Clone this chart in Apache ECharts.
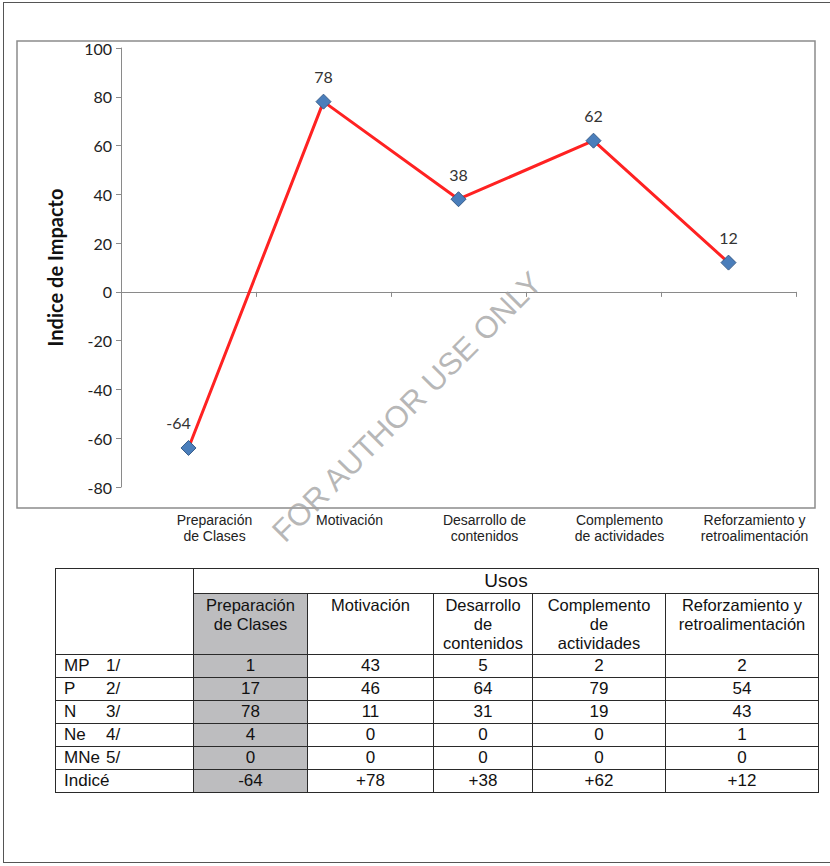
<!DOCTYPE html>
<html>
<head>
<meta charset="utf-8">
<title>Indice de Impacto</title>
<script src="https://cdn.jsdelivr.net/npm/echarts@6/dist/echarts.min.js"></script>
<style>
  html, body { margin: 0; padding: 0; background: #fff; }
  body { width: 830px; height: 866px; position: relative; overflow: hidden; }
  #frame {
    position: absolute; left: 3px; top: 2px; width: 860px; height: 861px;
    border: 1.5px solid #555; box-sizing: border-box;
  }
  #chart { position: absolute; left: 0; top: 0; width: 830px; height: 866px; }
  #usos {
    position: absolute; left: 55px; top: 568px; width: 763px;
    border-collapse: collapse; table-layout: fixed;
    font-family: "Liberation Sans", Arial, sans-serif; color: #111;
  }
  #usos td { border: 1px solid #2a2a2a; padding: 0; text-align: center; font-size: 17px; line-height: 20px; }
  #usos tr.top td.title { font-size: 19px; line-height: 22px; }
  #usos tr.top { height: 25px; }
  #usos tr.head { height: 61px; }
  #usos tr.head td { vertical-align: top; font-size: 16.5px; line-height: 19px; white-space: pre-line; padding-top: 2px; }
  #usos tr.row { height: 23px; }
  #usos td.lbl { text-align: left; padding-left: 8px; }
  #usos td.lbl span.code { display: inline-block; width: 42px; }
  #usos td.shade { background: #bdbdbf; }
</style>
</head>
<body>
<div id="frame"></div>
<div id="chart"></div>
<table id="usos"></table>
<script>
// Categories as printed under the chart and in the table header
const axisLabels = ['Preparación\nde Clases', 'Motivación', 'Desarrollo de\ncontenidos', 'Complemento\nde actividades', 'Reforzamiento y\nretroalimentación'];
const tableHeaders = ['Preparación\nde Clases', 'Motivación', 'Desarrollo\nde\ncontenidos', 'Complemento\nde\nactividades', 'Reforzamiento y\nretroalimentación'];

// Impact index per use
const impactIndex = [-64, 78, 38, 62, 12];

// Value axis range
const yMin = -80;
const yMax = 100;
const yStep = 20;

// Response counts per category
const rowCodes = ['MP', 'P', 'N', 'Ne', 'MNe'];
const rowNums = ['1/', '2/', '3/', '4/', '5/'];
const countsMP = [1, 43, 5, 2, 2];
const countsP = [17, 46, 64, 79, 54];
const countsN = [78, 11, 31, 19, 43];
const countsNe = [4, 0, 0, 0, 1];
const countsMNe = [0, 0, 0, 0, 0];
const indexRowLabel = 'Indicé';
const tableTitle = 'Usos';

// ---- chart ----
const chart = echarts.init(document.getElementById('chart'), null, { renderer: 'svg' });

const calibriLike = 'Lato, "Open Sans", sans-serif';

chart.setOption({
  animation: false,
  grid: { left: 121, right: 34, top: 48, bottom: 379 },
  xAxis: [
    {
      type: 'category',
      data: axisLabels,
      axisLine: { onZero: true, lineStyle: { color: '#8a8a8a', width: 1 } },
      axisTick: { show: true, length: 5, lineStyle: { color: '#8a8a8a' } },
      axisLabel: { show: false },
      splitLine: { show: false }
    },
    {
      type: 'category',
      data: axisLabels,
      position: 'bottom',
      axisLine: { show: false, onZero: false },
      axisTick: { show: false },
      splitLine: { show: false },
      axisLabel: {
        interval: 0,
        hideOverlap: false,
        margin: 25,
        fontFamily: '"Liberation Sans", Arial, sans-serif',
        fontSize: 14,
        lineHeight: 16,
        color: '#222',
        padding: [0, 0, 0, 52]
      }
    }
  ],
  yAxis: {
    type: 'value',
    min: yMin,
    max: yMax,
    interval: yStep,
    axisLine: { show: true, lineStyle: { color: '#8a8a8a', width: 1 } },
    axisTick: { show: true, length: 5, lineStyle: { color: '#8a8a8a' } },
    splitLine: { show: false },
    axisLabel: { fontFamily: calibriLike, fontSize: 16, color: '#222', margin: 9 },
    name: 'Indice de Impacto',
    nameLocation: 'middle',
    nameRotate: 90,
    nameGap: 56,
    nameTextStyle: { fontFamily: calibriLike, fontWeight: 'bold', fontSize: 20, color: '#111' }
  },
  series: [{
    type: 'line',
    xAxisIndex: 0,
    data: impactIndex.map((v, i) => i === 0 ? { value: v, label: { offset: [-10, 0] } } : v),
    symbol: 'diamond',
    symbolSize: 15,
    lineStyle: { color: '#ff2222', width: 3 },
    itemStyle: { color: '#4a7ebb', borderColor: '#385d8a', borderWidth: 1 },
    label: { show: true, position: 'top', distance: 9, fontFamily: calibriLike, fontSize: 16, color: '#333' },
    emphasis: { disabled: true },
    z: 3
  }],
  graphic: [
    {
      type: 'rect',
      silent: true,
      z: -1,
      shape: { x: 17, y: 41, width: 798, height: 467 },
      style: { fill: 'none', stroke: '#8c8c8c', lineWidth: 1.5 }
    },
    {
      type: 'text',
      silent: true,
      z: 100,
      x: 407,
      y: 407,
      rotation: Math.PI / 4,
      style: {
        text: 'FOR AUTHOR USE ONLY',
        fontFamily: '"Liberation Sans", Arial, sans-serif',
        fontSize: 31,
        fill: 'rgba(160,160,160,0.75)',
        align: 'center',
        verticalAlign: 'middle'
      }
    }
  ]
});

// ---- table ----
const table = document.getElementById('usos');
const colWidths = [138, 114, 126, 99, 133, 153];
let html = '<colgroup>' + colWidths.map(w => '<col style="width:' + w + 'px">').join('') + '</colgroup>';
html += '<tr class="top"><td rowspan="2"></td><td class="title" colspan="' + tableHeaders.length + '">' + tableTitle + '</td></tr>';
html += '<tr class="head">' + tableHeaders.map((h, i) => '<td' + (i === 0 ? ' class="shade"' : '') + '>' + h + '</td>').join('') + '</tr>';
const countRows = [countsMP, countsP, countsN, countsNe, countsMNe];
countRows.forEach((vals, r) => {
  html += '<tr class="row"><td class="lbl"><span class="code">' + rowCodes[r] + '</span>' + rowNums[r] + '</td>' +
    vals.map((v, i) => '<td' + (i === 0 ? ' class="shade"' : '') + '>' + v + '</td>').join('') + '</tr>';
});
html += '<tr class="row"><td class="lbl">' + indexRowLabel + '</td>' +
  impactIndex.map((v, i) => '<td' + (i === 0 ? ' class="shade"' : '') + '>' + (v > 0 ? '+' + v : String(v)) + '</td>').join('') + '</tr>';
table.innerHTML = html;
</script>
</body>
</html>
